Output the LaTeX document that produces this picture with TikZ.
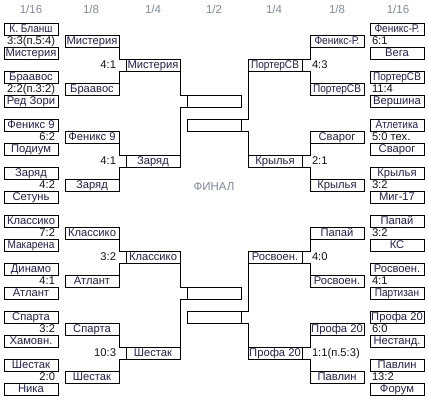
\documentclass[tikz,border=0pt]{standalone}
\usepackage{fontspec}
\usepackage{graphicx}
\setmainfont{Liberation Sans}
\definecolor{teamc}{RGB}{34,34,70}
\definecolor{scorec}{RGB}{20,20,20}
\definecolor{headc}{RGB}{128,138,150}
\newcommand\tf{\fontsize{11.2}{12}\selectfont}
\newcommand\hf{\fontsize{11.5}{12}\selectfont}
\newcommand\nw[1]{\scalebox{0.9}[1]{#1}}
\tikzset{
  box/.style={draw, line width=1pt, minimum width=54pt, minimum height=12pt, inner sep=0pt, outer sep=0pt, anchor=north west, text height=9.9pt, text depth=2.1pt, font=\tf, text=teamc},
  scl/.style={anchor=east, inner sep=0pt, outer sep=0pt, text height=9.9pt, text depth=2.1pt, font=\tf, text=scorec},
  scr/.style={anchor=west, inner sep=0pt, outer sep=0pt, text height=9.9pt, text depth=2.1pt, font=\tf, text=scorec},
  head/.style={inner sep=0pt, font=\hf, text=headc},
  link/.style={line width=1pt}
}
\begin{document}
\begin{tikzpicture}[x=1pt,y=-1pt]
\useasboundingbox[fill=white] (0,0) rectangle (428,400);
% headers
\node[head] (hd1) at (31,9) {1/16};
\node[head] (hd2) at (91,9) {1/8};
\node[head] (hd3) at (153,9) {1/4};
\node[head] (hd4) at (214,9) {1/2};
\node[head] (hd5) at (274,9) {1/4};
\node[head] (hd6) at (337,9) {1/8};
\node[head] (hd7) at (398,9) {1/16};
\node[head] (fin) at (214,187) {ФИНАЛ};
% left 1/16
\node[box] (a1) at (4,23) {\nw{К. Бланш}};
\node[box] (a2) at (4,47) {Мистерия};
\node[box] (a3) at (4,71) {Браавос};
\node[box] (a4) at (4,95) {Ред Зори};
\node[box] (a5) at (4,119) {Феникс 9};
\node[box] (a6) at (4,143) {Подиум};
\node[box] (a7) at (4,167) {Заряд};
\node[box] (a8) at (4,191) {Сетунь};
\node[box] (a9) at (4,215) {Классико};
\node[box] (a10) at (4,239) {\nw{Макарена}};
\node[box] (a11) at (4,263) {Динамо};
\node[box] (a12) at (4,287) {Атлант};
\node[box] (a13) at (4,311) {Спарта};
\node[box] (a14) at (4,335) {Хамовн.};
\node[box] (a15) at (4,359) {Шестак};
\node[box] (a16) at (4,383) {Ника};
% left 1/16 scores
\node[scl] (sa1) at (55,41) {3:3(п.5:4)};
\node[scl] (sa2) at (55,89) {2:2(п.3:2)};
\node[scl] (sa3) at (55,137) {6:2};
\node[scl] (sa4) at (55,185) {4:2};
\node[scl] (sa5) at (55,233) {7:2};
\node[scl] (sa6) at (55,281) {4:1};
\node[scl] (sa7) at (55,329) {3:2};
\node[scl] (sa8) at (55,377) {2:0};
% left 1/8
\node[box] (b1) at (65,35) {Мистерия};
\node[box] (b2) at (65,83) {Браавос};
\node[box] (b3) at (65,131) {Феникс 9};
\node[box] (b4) at (65,179) {Заряд};
\node[box] (b5) at (65,227) {Классико};
\node[box] (b6) at (65,275) {Атлант};
\node[box] (b7) at (65,323) {Спарта};
\node[box] (b8) at (65,371) {Шестак};
% left 1/8 scores
\node[scl] (sc1) at (116,65) {4:1};
\node[scl] (sc2) at (116,161) {4:1};
\node[scl] (sc3) at (116,257) {3:2};
\node[scl] (sc4) at (116,353) {10:3};
% left 1/4
\node[box] (c1) at (126,59) {Мистерия};
\node[box] (c2) at (126,155) {Заряд};
\node[box] (c3) at (126,251) {Классико};
\node[box] (c4) at (126,347) {Шестак};
% semifinal boxes
\node[box] (d1) at (187,95) {};
\node[box] (e1) at (187,119) {};
\node[box] (d2) at (187,287) {};
\node[box] (e2) at (187,311) {};
% right 1/16
\node[box] (f1) at (370,23) {\nw{Феникс-Р.}};
\node[box] (f2) at (370,47) {Вега};
\node[box] (f3) at (370,71) {\nw{ПортерСВ}};
\node[box] (f4) at (370,95) {Вершина};
\node[box] (f5) at (370,119) {\nw{Атлетика}};
\node[box] (f6) at (370,143) {Сварог};
\node[box] (f7) at (370,167) {Крылья};
\node[box] (f8) at (370,191) {Миг-17};
\node[box] (f9) at (370,215) {Папай};
\node[box] (f10) at (370,239) {КС};
\node[box] (f11) at (370,263) {Росвоен.};
\node[box] (f12) at (370,287) {\nw{Партизан}};
\node[box] (f13) at (370,311) {Профа 20};
\node[box] (f14) at (370,335) {Нестанд.};
\node[box] (f15) at (370,359) {Павлин};
\node[box] (f16) at (370,383) {Форум};
% right 1/16 scores
\node[scr] (sf1) at (372,41) {6:1};
\node[scr] (sf2) at (372,89) {11:4};
\node[scr] (sf3) at (372,137) {5:0 тех.};
\node[scr] (sf4) at (372,185) {3:2};
\node[scr] (sf5) at (372,233) {3:2};
\node[scr] (sf6) at (372,281) {4:1};
\node[scr] (sf7) at (372,329) {6:0};
\node[scr] (sf8) at (372,377) {13:2};
% right 1/8
\node[box] (g1) at (310,35) {\nw{Феникс-Р.}};
\node[box] (g2) at (310,83) {\nw{ПортерСВ}};
\node[box] (g3) at (310,131) {Сварог};
\node[box] (g4) at (310,179) {Крылья};
\node[box] (g5) at (310,227) {Папай};
\node[box] (g6) at (310,275) {Росвоен.};
\node[box] (g7) at (310,323) {Профа 20};
\node[box] (g8) at (310,371) {Павлин};
% right 1/8 scores
\node[scr] (sg1) at (312,65) {4:3};
\node[scr] (sg2) at (312,161) {2:1};
\node[scr] (sg3) at (312,257) {4:0};
\node[scr] (sg4) at (312,353) {1:1(п.5:3)};
% right 1/4
\node[box] (h1) at (248,59) {\nw{ПортерСВ}};
\node[box] (h2) at (248,155) {Крылья};
\node[box] (h3) at (248,251) {Росвоен.};
\node[box] (h4) at (248,347) {Профа 20};
% left connectors
\draw[link] (b1.south east) |- (c1.north east);
\draw[link] (b2.north east) |- (c1.south east);
\draw[link] (b3.south east) |- (c2.north east);
\draw[link] (b4.north east) |- (c2.south east);
\draw[link] (b5.south east) |- (c3.north east);
\draw[link] (b6.north east) |- (c3.south east);
\draw[link] (b7.south east) |- (c4.north east);
\draw[link] (b8.north east) |- (c4.south east);
\draw[link] (c1.south east) |- (d1.north east);
\draw[link] (c2.north east) |- (d1.south east);
\draw[link] (c3.south east) |- (d2.north east);
\draw[link] (c4.north east) |- (d2.south east);
% right connectors
\draw[link] (g1.south west) |- (h1.north west);
\draw[link] (g2.north west) |- (h1.south west);
\draw[link] (g3.south west) |- (h2.north west);
\draw[link] (g4.north west) |- (h2.south west);
\draw[link] (g5.south west) |- (h3.north west);
\draw[link] (g6.north west) |- (h3.south west);
\draw[link] (g7.south west) |- (h4.north west);
\draw[link] (g8.north west) |- (h4.south west);
\draw[link] (h1.south west) |- (e1.north west);
\draw[link] (h2.north west) |- (e1.south west);
\draw[link] (h3.south west) |- (e2.north west);
\draw[link] (h4.north west) |- (e2.south west);
\end{tikzpicture}
\end{document}
